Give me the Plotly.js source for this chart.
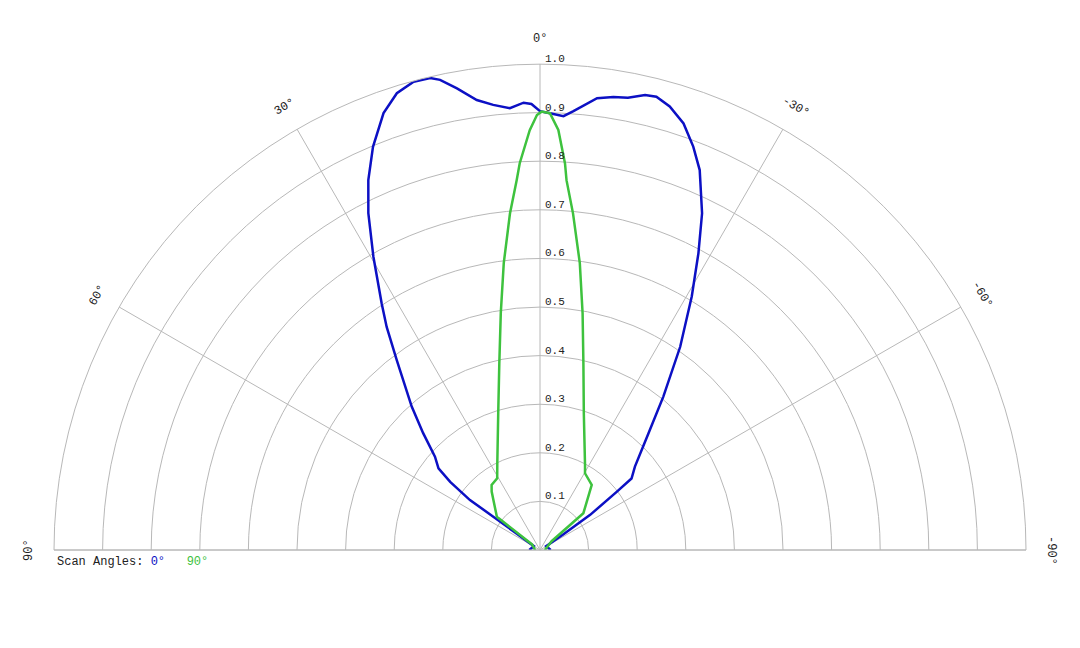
<!DOCTYPE html>
<html>
<head>
<meta charset="utf-8">
<script src="https://cdn.plot.ly/plotly-3.0.1.min.js"></script>
<style>
  html, body { margin: 0; padding: 0; background: #fff; }
  #chart { width: 1080px; height: 648px; }
</style>
</head>
<body>
<div id="chart"></div>
<script>
// Scan 0 deg (blue) - angle in degrees, relative intensity
const scan0Theta = [90, 58, 55, 54.5, 54.5, 52.8, 51.2, 48.4, 45, 41.8, 37, 34.5, 32.7, 29.6, 27.0, 24.9,
    22.5, 19.7, 17.4, 15.1, 13.1, 12.0, 10.2, 8.0, 6.0, 3.9, 2.1, 1.1, 0, -1.3, -3.1, -4.3, -7.2, -9.2,
    -11.0, -13.0, -14.4, -16.3, -18.6, -20.8, -22.8, -25.7, -28.1, -30.9, -34.6, -38.8, -42.9, -48.7,
    -52.0, -52.8, -55, -56, -58, -90];
const scan0R = [0.022, 0.015, 0.06, 0.118, 0.177, 0.232, 0.268, 0.289, 0.340, 0.396, 0.490, 0.557, 0.603, 0.694, 0.778, 0.839,
    0.898, 0.955, 0.985, 0.998, 0.997, 0.989, 0.965, 0.935, 0.921, 0.911, 0.921, 0.918, 0.903, 0.899, 0.894, 0.905, 0.937, 0.944,
    0.948, 0.961, 0.963, 0.951, 0.926, 0.888, 0.848, 0.769, 0.692, 0.608, 0.508, 0.405, 0.328, 0.260,
    0.239, 0.198, 0.126, 0.06, 0.015, 0.022];

// Scan 90 deg (green)
const scan90Theta = [90, 55, 52.4, 39.6, 36.6, 30.8, 26.2, 17.0, 12.3, 9.4, 7.2, 5.1, 3.6, 3.0, 1.4, 0.4, -0.2,
    -1.3, -2.5, -3.7, -4.1, -5.6, -7.9, -10.2, -13.1, -17.8, -27.9, -30.4, -38.5, -49.7, -53, -90];
const scan90R = [0.01, 0.02, 0.112, 0.156, 0.167, 0.172, 0.199, 0.294, 0.393, 0.494, 0.595, 0.695, 0.763, 0.797, 0.864, 0.895, 0.902,
    0.899, 0.865, 0.797, 0.763, 0.696, 0.596, 0.495, 0.394, 0.295, 0.198, 0.183, 0.171, 0.117, 0.03, 0.01];

const radialTicks = [0.1, 0.2, 0.3, 0.4, 0.5, 0.6, 0.7, 0.8, 0.9, 1.0];
const angleTicks = [0, 30, 60, 90, -30, -60, -90];
const angleLabels = ['0°', '30°', '60°', '90°', '-30°', '-60°', '-90°'];

const BLUE = '#0c10c4';
const GREEN = '#3ec23e';
const FONT = 'Liberation Mono, Courier New, monospace';

const W = 1080, H = 648;
const cx = 540, cy = 550, R = 486;

const traces = [
    { type: 'scatterpolar', mode: 'lines', theta: scan0Theta, r: scan0R,
      line: { color: BLUE, width: 2.5 }, hoverinfo: 'none', showlegend: false },
    { type: 'scatterpolar', mode: 'lines', theta: scan90Theta, r: scan90R,
      line: { color: GREEN, width: 2.5 }, hoverinfo: 'none', showlegend: false }
];

// angle labels set tangentially just outside the outer ring
const annotations = angleTicks.map((a, i) => {
    const rad = a * Math.PI / 180;
    const px = cx - 511 * Math.sin(rad);
    const py = cy - 511 * Math.cos(rad);
    return {
        xref: 'paper', yref: 'paper', x: px / W, y: 1 - py / H,
        xanchor: 'center', yanchor: 'middle', showarrow: false,
        text: angleLabels[i], textangle: -a,
        font: { family: FONT, size: 12, color: '#222' }
    };
});

// radial labels sit just above each ring, right of the 0 deg spoke
radialTicks.forEach(v => {
    annotations.push({
        xref: 'paper', yref: 'paper', x: (cx + 3) / W, y: 1 - (cy - v * R) / H,
        xanchor: 'left', yanchor: 'middle', yshift: 5, showarrow: false,
        text: v.toFixed(1), font: { family: FONT, size: 11, color: '#222' }
    });
});

annotations.push({
    xref: 'paper', yref: 'paper', x: 55 / W, y: 1 - 562 / H,
    xanchor: 'left', yanchor: 'middle', showarrow: false,
    text: 'Scan Angles:\u00a0<span style="color:' + BLUE + '">0°</span>\u00a0\u00a0\u00a0<span style="color:' + GREEN + '">90°</span>',
    font: { family: FONT, size: 12, color: '#222' }
});

const layout = {
    width: W, height: H,
    margin: { l: 0, r: 0, t: 0, b: 0 },
    paper_bgcolor: '#fff',
    showlegend: false,
    polar: {
        domain: { x: [(cx - R) / W, (cx + R) / W], y: [1 - cy / H, 1 - (cy - R) / H] },
        sector: [0, 180],
        bgcolor: '#fff',
        radialaxis: {
            range: [0, 1], tickmode: 'array', tickvals: radialTicks,
            angle: 90, showticklabels: false, showline: false, ticks: '',
            gridcolor: '#b8b8b8', gridwidth: 1
        },
        angularaxis: {
            rotation: 90, direction: 'counterclockwise', dtick: 30,
            showticklabels: false, ticks: '', showline: true,
            linecolor: '#b8b8b8', gridcolor: '#b8b8b8', gridwidth: 1
        }
    },
    annotations: annotations
};

Plotly.newPlot('chart', traces, layout, { staticPlot: true });
</script>
</body>
</html>
